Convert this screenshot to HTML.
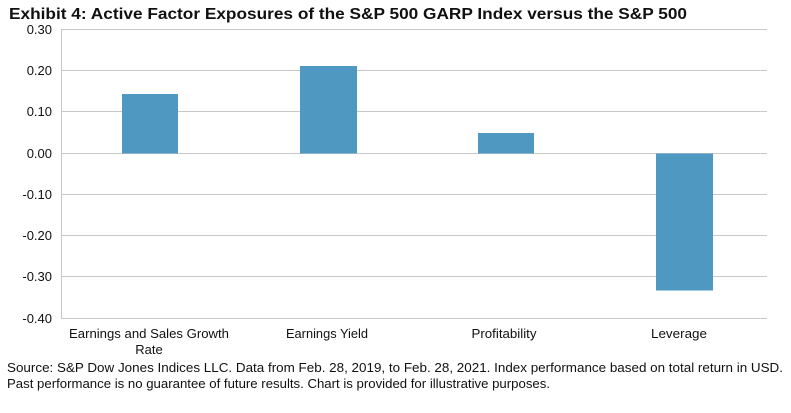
<!DOCTYPE html>
<html><head><style>body{margin:0;background:#fff;width:791px;height:408px;overflow:hidden}</style></head>
<body>
<svg width="791" height="408" xmlns="http://www.w3.org/2000/svg" font-family="Liberation Sans, Arial, sans-serif">
<text x="9" y="19" font-size="16" font-weight="bold" fill="#111" textLength="678" lengthAdjust="spacingAndGlyphs">Exhibit 4: Active Factor Exposures of the S&amp;P 500 GARP Index versus the S&amp;P 500</text>
<g stroke="#c8c8c8" stroke-width="1">
<line x1="61" x2="767" y1="29.5" y2="29.5"/>
<line x1="61" x2="767" y1="70.5" y2="70.5"/>
<line x1="61" x2="767" y1="111.5" y2="111.5"/>
<line x1="61" x2="767" y1="153.5" y2="153.5"/>
<line x1="61" x2="767" y1="194.5" y2="194.5"/>
<line x1="61" x2="767" y1="235.5" y2="235.5"/>
<line x1="61" x2="767" y1="276.5" y2="276.5"/>
<line x1="61" x2="767" y1="318.5" y2="318.5"/>
<line x1="61.5" x2="61.5" y1="29" y2="319"/>
</g>
<g fill="#4f98c2">
<rect x="122" y="94" width="56" height="59.5"/>
<rect x="300" y="66" width="57" height="87.5"/>
<rect x="478" y="133" width="56" height="20.5"/>
<rect x="656" y="153.5" width="57" height="137"/>
</g>
<g font-size="13" fill="#111" text-anchor="end">
<text x="52" y="34">0.30</text>
<text x="52" y="75">0.20</text>
<text x="52" y="116">0.10</text>
<text x="52" y="158">0.00</text>
<text x="52" y="199">-0.10</text>
<text x="52" y="240">-0.20</text>
<text x="52" y="281">-0.30</text>
<text x="52" y="323">-0.40</text>
</g>
<g font-size="13" fill="#111" text-anchor="middle">
<text x="149" y="338" textLength="160" lengthAdjust="spacingAndGlyphs">Earnings and Sales Growth</text>
<text x="149" y="354">Rate</text>
<text x="327" y="338" textLength="82" lengthAdjust="spacingAndGlyphs">Earnings Yield</text>
<text x="504" y="338" textLength="65" lengthAdjust="spacingAndGlyphs">Profitability</text>
<text x="679" y="338" textLength="56" lengthAdjust="spacingAndGlyphs">Leverage</text>
</g>
<g font-size="12.5" fill="#111">
<text x="7" y="372" textLength="776" lengthAdjust="spacingAndGlyphs">Source: S&amp;P Dow Jones Indices LLC. Data from Feb. 28, 2019, to Feb. 28, 2021. Index performance based on total return in USD.</text>
<text x="7" y="388" textLength="543" lengthAdjust="spacingAndGlyphs">Past performance is no guarantee of future results. Chart is provided for illustrative purposes.</text>
</g>
</svg>
</body></html>
